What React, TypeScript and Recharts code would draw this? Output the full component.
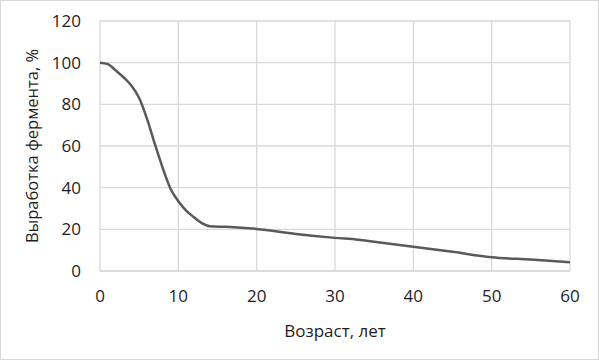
import { CartesianGrid, Line, LineChart, XAxis, YAxis } from 'recharts';

const AGES = [0, 1, 2, 3, 4, 5, 6, 7, 8, 9, 10, 11, 12, 13, 14, 16, 18, 20, 25, 30, 33, 35, 40, 45, 50, 55, 60];
const ENZYME = [100, 99.3, 96.3, 93, 89, 83, 73, 61, 49.5, 39.5, 33.5, 29, 25.8, 23, 21.5, 21.2, 20.8, 20.2, 17.8, 15.9, 15, 14, 11.6, 9.2, 6.6, 5.5, 4.2];

const X_TICKS = [0, 10, 20, 30, 40, 50, 60];
const Y_TICKS = [0, 20, 40, 60, 80, 100, 120];

const X_TITLE = 'Возраст, лет';
const Y_TITLE = 'Выработка фермента, %';

const GRID = '#d9d9d9';
const LINE = '#595959';
const TEXT = '#1e1e1e';
const FONT = '"Open Sans", sans-serif';

const data = AGES.map((age, i) => ({ age, value: ENZYME[i] }));

export default function App() {
  return (
    <div
      style={{
        width: 599,
        height: 360,
        boxSizing: 'border-box',
        border: `1px solid ${GRID}`,
        background: '#fff',
        fontFamily: FONT,
      }}
    >
      <style>{'body{margin:0}'}</style>
      <LineChart
        width={597}
        height={358}
        data={data}
        margin={{ top: 20, right: 28, left: 0, bottom: 0 }}
      >
        <CartesianGrid stroke={GRID} strokeWidth={1.3} />
        <XAxis
          dataKey="age"
          type="number"
          domain={[0, 60]}
          ticks={X_TICKS}
          axisLine={{ stroke: GRID, strokeWidth: 1.3 }}
          tickLine={false}
          tickSize={0}
          tickMargin={19}
          height={88}
          tick={{ fill: TEXT, fontSize: 17, fontFamily: FONT }}
          label={{
            value: X_TITLE,
            position: 'insideBottom',
            offset: 22,
            fill: TEXT,
            fontSize: 17,
            fontFamily: FONT,
          }}
        />
        <YAxis
          type="number"
          domain={[0, 120]}
          ticks={Y_TICKS}
          axisLine={false}
          tickLine={false}
          tickSize={0}
          tickMargin={19}
          width={99}
          tick={{ fill: TEXT, fontSize: 17, fontFamily: FONT }}
          label={{
            value: Y_TITLE,
            angle: -90,
            position: 'insideLeft',
            offset: 31,
            style: { textAnchor: 'middle' },
            fill: TEXT,
            fontSize: 16.5,
            fontFamily: FONT,
          }}
        />
        <Line
          type="monotone"
          dataKey="value"
          stroke={LINE}
          strokeWidth={2.5}
          dot={false}
          isAnimationActive={false}
        />
      </LineChart>
    </div>
  );
}
